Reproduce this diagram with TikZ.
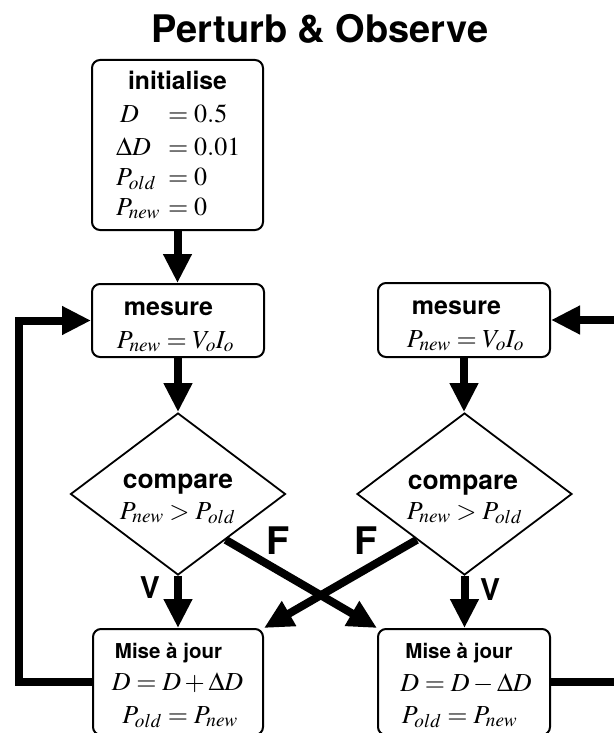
\documentclass[tikz,border=0pt]{standalone}
\usepackage{mathptmx}
\usepackage[no-math]{fontspec}
\setsansfont{TeX Gyre Heros}
\usetikzlibrary{arrows.meta,shapes.geometric,calc}
\tikzset{
  box/.style={draw, line width=2pt, rounded corners=8pt, inner sep=0pt, minimum width=172pt},
  dia/.style={draw, diamond, line width=1.8pt, inner sep=0pt, minimum width=215pt, minimum height=162pt},
  flow/.style={line width=8pt, -{Triangle[width=27pt,length=29pt]}},
  lbl/.style={font=\sffamily\bfseries\fontsize{#1}{#1}\selectfont, inner sep=0pt, anchor=base},
  lbl/.default=25,
  eq/.style={font=\fontsize{26}{31}\selectfont, inner sep=0pt, anchor=base},
}
\begin{document}
\begin{tikzpicture}[x=1pt,y=-1pt]
\useasboundingbox (0,0) rectangle (613,733);
% boxes
\node[box, minimum width=171pt, minimum height=170pt] (init) at (177.5,145) {};
\node[box, minimum height=73pt] (mes1) at (178,320.5) {};
\node[box, minimum height=74pt] (mes2) at (464,320) {};
\node[dia] (dia1) at (178,494) {};
\node[dia] (dia2) at (464.5,494) {};
\node[box, minimum width=170pt, minimum height=106pt] (mise1) at (178,682) {};
\node[box, minimum height=106pt] (mise2) at (464,682) {};
% title
\node[lbl=38] (title) at (320,43) {Perturb \& Observe};
% init text
\node[lbl=24.7] (tinit) at (177.5,90) {initialise};
\node[eq, anchor=base west] (r1a) at (120,122) {$D$};
\node[eq, anchor=base west] (r1b) at (168,122) {$=0.5$};
\node[eq, anchor=base west] (r2a) at (116,155) {$\Delta D$};
\node[eq, anchor=base west] (r2b) at (168,155) {$=0.01$};
\node[eq, anchor=base west] (r3a) at (116,185) {$P_{old}$};
\node[eq, anchor=base west] (r3b) at (168,185) {$=0$};
\node[eq, anchor=base west] (r4a) at (116,215) {$P_{new}$};
\node[eq, anchor=base west] (r4b) at (168,215) {$=0$};
% mesure text
\node[lbl] (tm1) at (168.5,315) {mesure};
\node[eq] (em1) at (175.5,348) {$P_{new}=V_oI_o$};
\node[lbl] (tm2) at (456.5,314) {mesure};
\node[eq] (em2) at (465.5,347) {$P_{new}=V_oI_o$};
% compare text
\node[lbl=26.4] (tc1) at (178,488) {compare};
\node[eq] (ec1) at (177.5,519) {$P_{new}>P_{old}$};
\node[lbl=26.4] (tc2) at (463,489) {compare};
\node[eq] (ec2) at (464.5,519) {$P_{new}>P_{old}$};
% mise a jour text
\node[lbl=20.5] (tu1) at (168.5,658) {Mise à jour};
\node[eq] (eu1) at (177.5,690) {$D=D+\Delta D$};
\node[eq] (ep1) at (180,723) {$P_{old}=P_{new}$};
\node[lbl=20.5] (tu2) at (459,658) {Mise à jour};
\node[eq] (eu2) at (466,691) {$D=D-\Delta D$};
\node[eq] (ep2) at (459.5,723) {$P_{old}=P_{new}$};
% labels
\node[lbl=38, anchor=center] (f1) at (278,541) {F};
\node[lbl=38, anchor=center] (f2) at (366,541) {F};
\node[lbl=30, anchor=center] (v1) at (150,588) {V};
\node[lbl=30, anchor=center] (v2) at (490,590) {V};
% connectors
\draw[flow] (init.south) -- (init.south |- mes1.north);
\draw[flow] (mes1.south) -- (dia1.north);
\draw[flow] (mes2.south) -- (mes2.south |- dia2.north);
\draw[flow] (dia1.south) -- (mise1.north);
\draw[flow] (dia2.south) -- (dia2.south |- mise2.north);
\draw[flow] ($(dia1.south)!0.44!(dia1.east)$) -- (mise2.north west);
\draw[flow] ($(dia2.south)!0.44!(dia2.west)$) -- (mise1.north east);
\coordinate (lcol) at (19,0);
\coordinate (rcol) at (640,0);
\draw[flow] (mise1.west) -- (mise1.west -| lcol) |- (mes1.west);
\draw[flow] (mise2.east) -- (mise2.east -| rcol) |- (mes2.east);
\end{tikzpicture}
\end{document}
